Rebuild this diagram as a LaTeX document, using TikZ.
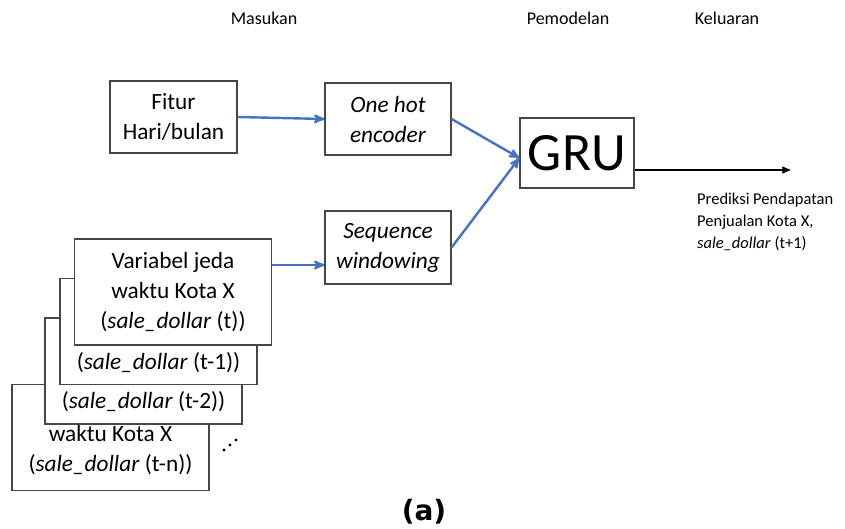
\documentclass[tikz,border=0pt]{standalone}
\usepackage{fontspec}
\setmainfont{Carlito}
\newfontfamily\captionfont{DejaVu Sans}
\usetikzlibrary{arrows}
\definecolor{flowblue}{RGB}{68,114,196}
\definecolor{boxgray}{RGB}{70,70,70}
\tikzset{x=1pt, y=-1pt, % One unit per pixel, y grows downwards
every node/.style={ % Default text of the blocks
font=\fontsize{23.3}{30}\selectfont},
block/.style={ % Sets the properties for each block
draw=boxgray, line width=1.2pt,
fill=white, align=center, inner sep=0pt,
minimum width=126, minimum height=72},
lagblock/.style={ % Stacked lag windows
block, minimum width=197, minimum height=106},
header/.style={font=\fontsize{18}{20}\selectfont}, % Column titles
flow/.style={ % Blue connectors between blocks
draw=flowblue, line width=2.4pt, ->, >=stealth'}}
\begin{document}
\begin{tikzpicture}
    \useasboundingbox (0,0) rectangle (845,528);

    \node[header] (masukan) at (264,18) {Masukan};
    \node[header] (pemodelan) at (568,18) {Pemodelan};
    \node[header] (keluaran) at (727,18) {Keluaran};

    \node[block, minimum width=127] (fitur) at (173.5,117) {Fitur\\Hari/bulan};
    \node[block] (onehot) at (388,119) {\textit{One hot}\\\textit{encoder}};
    \node[block, minimum height=73] (seqwin) at (388,247.5) {\textit{Sequence}\\\textit{windowing}};
    \node[block, minimum width=114, minimum height=70, font=\fontsize{54}{54}\selectfont] (gru) at (577,153) {GRU};

    % stack of lag windows, back to front
    \node[lagblock] (lagn) at (110.5,437.5) {};
    \node[lagblock] (lag2) at (143.5,371) {};
    \node[lagblock] (lag1) at (158.5,331.5) {};
    \node[lagblock] (lag0) at (173,292) {Variabel jeda\\waktu Kota X\\(\textit{sale\_dollar} (t))};
    \node (lag1txt) at (158.5,363) {(\textit{sale\_dollar} (t-1))};
    \node (lag2txt) at (143.5,402) {(\textit{sale\_dollar} (t-2))};
    \node[align=center] (lagntxt) at (110.5,450) {waktu Kota X\\(\textit{sale\_dollar} (t-n))};
    \foreach \dx/\dy in {224/450, 230/445, 236/440}
        \fill (\dx,\dy) circle (1.7);

    \coordinate (lagout) at ([yshift=27pt]lag0.east);
    \coordinate (gruin) at ([yshift=-5pt]gru.west);
    \coordinate (gruout) at ([yshift=-17pt]gru.east);
    \coordinate (predend) at (790,170);

    \draw[flow] (fitur.east) -- (onehot.west);
    \draw[flow] (lagout) -- (lagout -| seqwin.west);
    \draw[flow] (onehot.east) -- (gruin);
    \draw[flow] (seqwin.east) -- (gruin);
    \draw[->, >=stealth', line width=1.7pt] (gruout) -- (predend);

    \node[anchor=north west, align=left, inner sep=0pt, font=\fontsize{16.5}{22}\selectfont] (pred) at (697,193)
        {Prediksi Pendapatan\\Penjualan Kota X,\\\textit{sale\_dollar} (t+1)};

    \node[font=\captionfont\bfseries\fontsize{28}{28}\selectfont] (caption) at (424,512) {(a)};

\end{tikzpicture}
\end{document}
